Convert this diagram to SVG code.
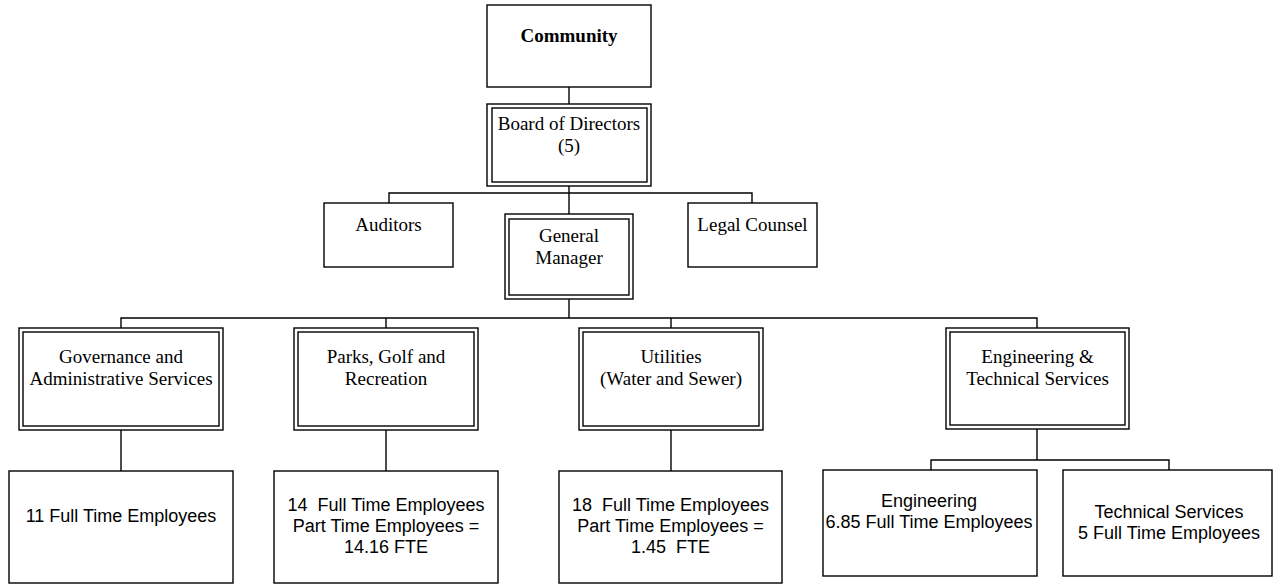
<svg xmlns="http://www.w3.org/2000/svg" width="1275" height="586" viewBox="0 0 1275 586">
<style>
  .box { fill: #fff; stroke: #000; stroke-width: 1.4; }
  .in { fill: none; stroke: #000; stroke-width: 1.4; }
  .con { fill: none; stroke: #000; stroke-width: 1.4; }
  .sf { font-family: "Liberation Serif", "Times New Roman", serif; font-size: 19px; fill: #000; text-anchor: middle; }
  .b { font-weight: bold; }
  .ss { font-family: "Liberation Sans", Arial, sans-serif; font-size: 18px; fill: #000; text-anchor: middle; white-space: pre; }
</style>
<rect width="1275" height="586" fill="#fff"/>
<g id="connectors">
  <path class="con" d="M569 87V104"/>
  <path class="con" d="M569 186V214"/>
  <path class="con" d="M389 203V193H752V203"/>
  <path class="con" d="M569 299V318"/>
  <path class="con" d="M121 328V318H1037V328"/>
  <path class="con" d="M386 318V328"/>
  <path class="con" d="M671 318V328"/>
  <path class="con" d="M121 430V471"/>
  <path class="con" d="M386 430V471"/>
  <path class="con" d="M671 430V471"/>
  <path class="con" d="M1037 429V460"/>
  <path class="con" d="M931 470V460H1169V470"/>
</g>
<g id="community">
  <rect class="box" x="487" y="5" width="164" height="82"/>
  <text class="sf b" x="569" y="42">Community</text>
</g>
<g id="board">
  <rect class="box" x="487" y="104" width="164" height="82"/>
  <rect class="in" x="492" y="108" width="155" height="74"/>
  <text class="sf" x="569" y="130">Board of Directors</text>
  <text class="sf" x="569" y="152">(5)</text>
</g>
<g id="auditors">
  <rect class="box" x="324" y="203" width="129" height="64"/>
  <text class="sf" x="388.5" y="231">Auditors</text>
</g>
<g id="legal">
  <rect class="box" x="688" y="203" width="129" height="64"/>
  <text class="sf" x="752.5" y="231">Legal Counsel</text>
</g>
<g id="gm">
  <rect class="box" x="505" y="214" width="128" height="85"/>
  <rect class="in" x="509" y="219" width="120" height="76"/>
  <text class="sf" x="569" y="242">General</text>
  <text class="sf" x="569" y="264">Manager</text>
</g>
<g id="governance">
  <rect class="box" x="19" y="328" width="204" height="102"/>
  <rect class="in" x="23" y="332" width="196" height="94"/>
  <text class="sf" x="121" y="363">Governance and</text>
  <text class="sf" x="121" y="385">Administrative Services</text>
</g>
<g id="parks">
  <rect class="box" x="294" y="328" width="184" height="102"/>
  <rect class="in" x="298" y="332" width="176" height="94"/>
  <text class="sf" x="386" y="363">Parks, Golf and</text>
  <text class="sf" x="386" y="385">Recreation</text>
</g>
<g id="utilities">
  <rect class="box" x="579" y="328" width="184" height="102"/>
  <rect class="in" x="583" y="332" width="176" height="94"/>
  <text class="sf" x="671" y="363">Utilities</text>
  <text class="sf" x="671" y="385">(Water and Sewer)</text>
</g>
<g id="engtech">
  <rect class="box" x="946" y="328" width="183" height="101"/>
  <rect class="in" x="950" y="332" width="175" height="93"/>
  <text class="sf" x="1037.5" y="363">Engineering &amp;</text>
  <text class="sf" x="1037.5" y="385">Technical Services</text>
</g>
<g id="gov-staff">
  <rect class="box" x="9" y="471" width="224" height="112"/>
  <text class="ss" x="121" y="522">11 Full Time Employees</text>
</g>
<g id="parks-staff">
  <rect class="box" x="274" y="471" width="224" height="112"/>
  <text class="ss" x="386" y="511">14  Full Time Employees</text>
  <text class="ss" x="386" y="532">Part Time Employees =</text>
  <text class="ss" x="386" y="553">14.16 FTE</text>
</g>
<g id="util-staff">
  <rect class="box" x="559" y="471" width="223" height="112"/>
  <text class="ss" x="670.5" y="511">18  Full Time Employees</text>
  <text class="ss" x="670.5" y="532">Part Time Employees =</text>
  <text class="ss" x="670.5" y="553">1.45  FTE</text>
</g>
<g id="engineering">
  <rect class="box" x="823" y="470" width="214" height="106"/>
  <text class="ss" x="929" y="507">Engineering</text>
  <text class="ss" x="929" y="528">6.85 Full Time Employees</text>
</g>
<g id="technical">
  <rect class="box" x="1063" y="470" width="209" height="106"/>
  <text class="ss" x="1169" y="518">Technical Services</text>
  <text class="ss" x="1169" y="539">5 Full Time Employees</text>
</g>
</svg>
